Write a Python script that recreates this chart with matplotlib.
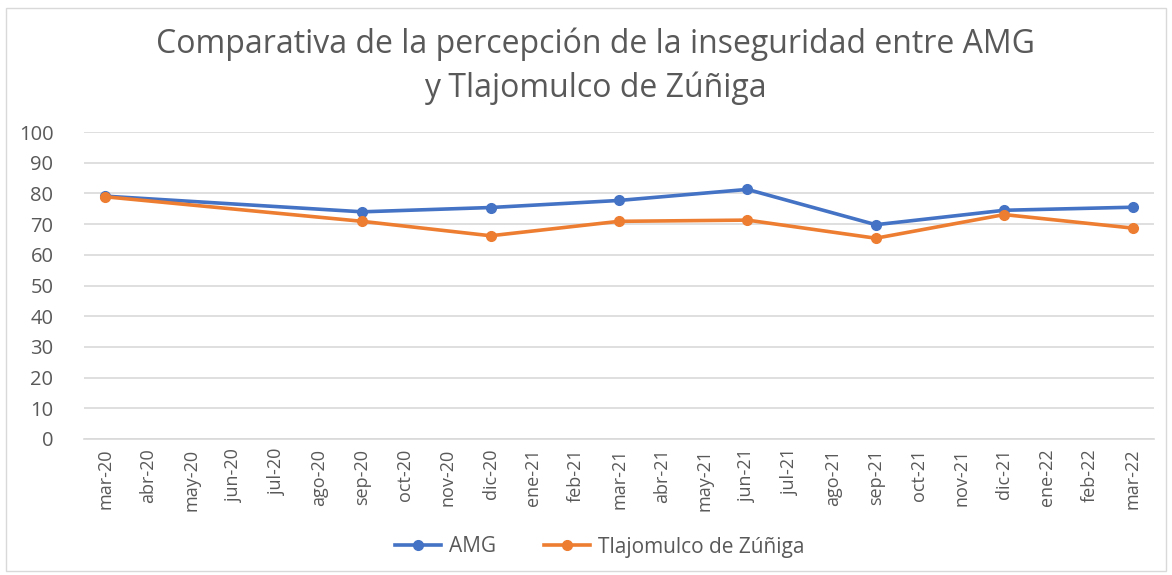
import matplotlib.pyplot as plt
import numpy as np

months = ["mar-20","abr-20","may-20","jun-20","jul-20","ago-20","sep-20","oct-20","nov-20",
          "dic-20","ene-21","feb-21","mar-21","abr-21","may-21","jun-21","jul-21","ago-21",
          "sep-21","oct-21","nov-21","dic-21","ene-22","feb-22","mar-22"]
survey_months = ["mar-20","sep-20","dic-20","mar-21","jun-21","sep-21","dic-21","mar-22"]
amg = [79.1, 74.0, 75.4, 77.7, 81.3, 69.8, 74.5, 75.5]
tlajomulco = [78.9, 70.9, 66.2, 70.9, 71.3, 65.4, 73.1, 68.7]

plt.rcParams['font.family'] = ['Open Sans', 'DejaVu Sans']
fig = plt.figure(figsize=(11.72, 5.75), dpi=100)
ax = fig.add_axes([84/1172, 1-439/575, (1154-84)/1172, (439-132)/575])

xpos = [months.index(m) for m in survey_months]
ax.plot(xpos, amg, color='#4472C4', lw=2.6, marker='o', ms=7, label='AMG', zorder=3)
ax.plot(xpos, tlajomulco, color='#ED7D31', lw=2.6, marker='o', ms=7,
        label='Tlajomulco de Zúñiga', zorder=3)

ax.set_xlim(-0.5, len(months)-0.5)
ax.set_ylim(0, 100)
ax.set_yticks(np.arange(0, 101, 10))
ax.set_xticks(range(len(months)))
ax.set_xticklabels(months, rotation=90)
ax.tick_params(axis='x', length=0, colors='#595959', labelsize=13, pad=7)
ax.tick_params(axis='y', length=0, colors='#595959', labelsize=14.5, pad=22)
ax.grid(axis='y', color='#D9D9D9', lw=1.2)
ax.set_axisbelow(True)
for s in ['top', 'right', 'left']:
    ax.spines[s].set_visible(False)
ax.spines['bottom'].set_color('#D9D9D9')
ax.spines['bottom'].set_linewidth(1.2)

fig.text(0.508, 1-66/575, "Comparativa de la percepción de la inseguridad entre AMG\ny Tlajomulco de Zúñiga",
         ha='center', va='center', fontsize=23, color='#595959', linespacing=1.4)

fig.legend(loc='center', bbox_to_anchor=(600/1172, 1-547/575), ncol=2, frameon=False,
           fontsize=15, labelcolor='#595959', handlelength=2.2, columnspacing=2.3,
           handletextpad=0.4)

border = plt.Rectangle((6/1172, 4/575), 1160/1172, 563/575, transform=fig.transFigure,
                       fill=False, edgecolor='#D9D9D9', lw=1)
fig.patches.append(border)

fig.savefig('out.png', dpi=100, facecolor='white')
